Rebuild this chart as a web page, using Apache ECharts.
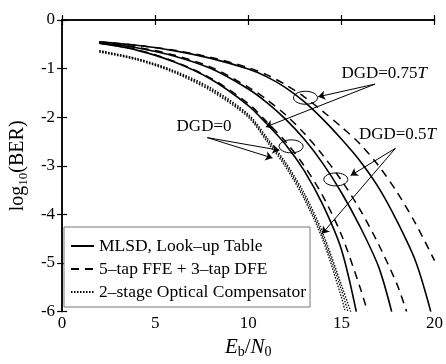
<!DOCTYPE html>
<html>
<head>
<meta charset="utf-8">
<script src="https://cdn.jsdelivr.net/npm/echarts@6/dist/echarts.min.js"></script>
<style>
  html, body { margin: 0; background: #fff; }
  #chart { width: 446px; height: 364px; }
</style>
</head>
<body>
<div id="chart"></div>
<script>
// BER curves, [Eb/N0, log10(BER)]
const solidDgd0 = [[2, -0.48], [4, -0.62], [6, -0.86], [8, -1.22], [10, -1.76], [11, -2.14], [12, -2.56], [13, -3.1], [14, -3.8], [15, -4.72], [15.8, -6]];
const dashedDgd0 = [[2, -0.48], [4, -0.61], [6, -0.85], [8, -1.2], [10, -1.72], [11, -2.1], [12, -2.5], [13, -3.0], [14, -3.62], [15, -4.42], [16, -5.5], [16.4, -6]];
const dottedDgd0 = [[2, -0.66], [4, -0.82], [6, -1.08], [8, -1.46], [10, -2.0], [11, -2.5], [12, -3.02], [13, -3.68], [14, -4.52], [15, -5.7], [15.2, -6]];

const solidDgd05 = [[2, -0.47], [4, -0.57], [6, -0.74], [8, -1.0], [10, -1.42], [11, -1.7], [12, -2.04], [13, -2.45], [14, -2.95], [15, -3.55], [16, -4.25], [17, -5.08], [17.7, -6]];
const dashedDgd05 = [[2, -0.47], [4, -0.56], [6, -0.72], [8, -0.97], [10, -1.38], [11, -1.64], [12, -1.95], [13, -2.33], [14, -2.78], [15, -3.3], [16, -3.9], [17, -4.62], [18, -5.45], [18.5, -6]];
const dottedDgd05 = [[2, -0.64], [4, -0.8], [6, -1.06], [8, -1.43], [10, -1.97], [11, -2.46], [12, -2.97], [13, -3.62], [14, -4.45], [15, -5.55], [15.35, -6]];

const solidDgd075 = [[2, -0.45], [4, -0.52], [6, -0.63], [8, -0.79], [10, -1.01], [11, -1.17], [12, -1.39], [13, -1.68], [14, -2.04], [15, -2.45], [16, -2.9], [17, -3.45], [18, -4.15], [19, -4.98], [19.8, -6]];
const dashedDgd075 = [[2, -0.45], [4, -0.52], [6, -0.62], [8, -0.77], [10, -0.98], [11, -1.13], [12, -1.33], [13, -1.58], [14, -1.88], [15, -2.2], [16, -2.55], [17, -3.0], [18, -3.55], [19, -4.2], [20, -4.95]];
const dottedDgd075 = [[2, -0.63], [4, -0.79], [6, -1.04], [8, -1.4], [10, -1.94], [11, -2.42], [12, -2.93], [13, -3.56], [14, -4.38], [15, -5.45], [15.5, -6]];

const legendNames = ["MLSD, Look\u2013up Table", "5\u2013tap FFE + 3\u2013tap DFE", "2\u2013stage Optical Compensator"];

// annotations (data coords)
const labelTexts = ["{n|DGD=0.75}{i|T}", "{n|DGD=0.5}{i|T}", "{n|DGD=0}"];
const labelAnchors = [[15.0, -1.1], [15.94, -2.36], [6.15, -2.2]];
const ellipseCenters = [[13.07, -1.6], [14.7, -3.28], [12.3, -2.6]];
const arrows = [
  [[16.8, -1.32], [13.75, -1.58]],
  [[16.8, -1.32], [10.94, -2.2]],
  [[17.9, -2.64], [15.5, -3.2]],
  [[17.9, -2.64], [13.96, -4.4]],
  [[7.8, -2.42], [11.67, -2.68]],
  [[7.8, -2.42], [11.3, -2.84]],
];

const serif = "Liberation Serif";

const styles = {
  solid: { type: "solid", width: 1.6 },
  dashed: { type: [8, 6], width: 1.5 },
  dotted: { type: [1.5, 1.5], width: 1.3 },
};

const curve = (name, data, kind) => ({
  name,
  type: "line",
  data,
  smooth: 0.3,
  symbol: "none",
  silent: true,
  itemStyle: { color: "#000" },
  lineStyle: { color: "#000", ...styles[kind] },
  z: 3,
});

const series = [
  curve(legendNames[0], solidDgd0, "solid"),
  curve(legendNames[1], dashedDgd0, "dashed"),
  curve(legendNames[2], dottedDgd0, "dotted"),
  curve(legendNames[0], solidDgd05, "solid"),
  curve(legendNames[1], dashedDgd05, "dashed"),
  curve(legendNames[2], dottedDgd05, "dotted"),
  curve(legendNames[0], solidDgd075, "solid"),
  curve(legendNames[1], dashedDgd075, "dashed"),
  curve(legendNames[2], dottedDgd075, "dotted"),
];

series[0].markLine = {
  silent: true,
  symbol: ["none", "arrow"],
  symbolSize: 7,
  animation: false,
  label: { show: false },
  lineStyle: { color: "#000", width: 1, type: "solid" },
  data: arrows.map(([from, to]) => [{ coord: from }, { coord: to }]),
};

const axisCommon = {
  axisLine: { show: true, lineStyle: { color: "#000", width: 1.5 } },
  axisTick: { show: true, inside: true, length: 5, lineStyle: { color: "#000", width: 1.2 } },
  splitLine: { show: false },
};

const chart = echarts.init(document.getElementById("chart"), null, { renderer: "canvas" });

chart.setOption({
  animation: false,
  backgroundColor: "#fff",
  color: ["#000"],
  grid: { left: 57, right: 5, top: 20, bottom: 44 },
  legend: {
    data: legendNames,
    orient: "vertical",
    left: 64,
    top: 227,
    padding: [10, 4, 6, 6],
    itemWidth: 23,
    itemHeight: 12,
    itemGap: 5,
    backgroundColor: "#fff",
    borderColor: "#777",
    borderWidth: 1,
    borderRadius: 0,
    itemStyle: { opacity: 0 },
    textStyle: { fontFamily: serif, fontSize: 17.5, color: "#000" },
    selectedMode: false,
  },
  xAxis: [
    {
      type: "value",
      min: 0,
      max: 20,
      interval: 5,
      ...axisCommon,
      axisLabel: { fontFamily: serif, fontSize: 17, color: "#000", margin: 3 },
      name: "{i|E}{s|b}{n|/}{i|N}{s|0}",
      nameLocation: "middle",
      nameGap: 16,
      nameTextStyle: {
        rich: {
          i: { fontFamily: serif, fontSize: 21, fontStyle: "italic", color: "#000", lineHeight: 24 },
          n: { fontFamily: serif, fontSize: 21, color: "#000", lineHeight: 24 },
          s: { fontFamily: serif, fontSize: 14, color: "#000", lineHeight: 14, verticalAlign: "bottom" },
        },
      },
    },
    {
      type: "value",
      position: "top",
      min: 0,
      max: 20,
      interval: 5,
      ...axisCommon,
      axisLabel: { show: false },
    },
  ],
  yAxis: [
    {
      type: "value",
      min: -6,
      max: 0,
      interval: 1,
      ...axisCommon,
      axisLabel: { fontFamily: serif, fontSize: 17, color: "#000", margin: 7 },
      name: "{n|log}{s|10}{n|(BER)}",
      nameLocation: "middle",
      nameRotate: 90,
      nameGap: 28,
      nameTextStyle: {
        rich: {
          n: { fontFamily: serif, fontSize: 20, color: "#000", lineHeight: 24 },
          s: { fontFamily: serif, fontSize: 13, color: "#000", lineHeight: 13, verticalAlign: "bottom" },
        },
      },
    },
    {
      type: "value",
      position: "right",
      min: -6,
      max: 0,
      interval: 1,
      ...axisCommon,
      axisLabel: { show: false },
    },
  ],
  series,
});

const toPx = (pt) => chart.convertToPixel({ gridIndex: 0 }, pt);

const graphic = [];
ellipseCenters.forEach((c) => {
  const [cx, cy] = toPx(c);
  graphic.push({
    type: "ellipse",
    shape: { cx, cy, rx: 12, ry: 6.5 },
    style: { fill: "none", stroke: "#000", lineWidth: 1 },
    z: 10,
  });
});
labelTexts.forEach((text, i) => {
  const [x, y] = toPx(labelAnchors[i]);
  graphic.push({
    type: "text",
    x,
    y,
    z: 10,
    style: {
      text,
      verticalAlign: "middle",
      align: "left",
      rich: {
        n: { fontFamily: serif, fontSize: 17, fill: "#000" },
        i: { fontFamily: serif, fontSize: 17, fontStyle: "italic", fill: "#000" },
      },
    },
  });
});

chart.setOption({ graphic });
</script>
</body>
</html>
